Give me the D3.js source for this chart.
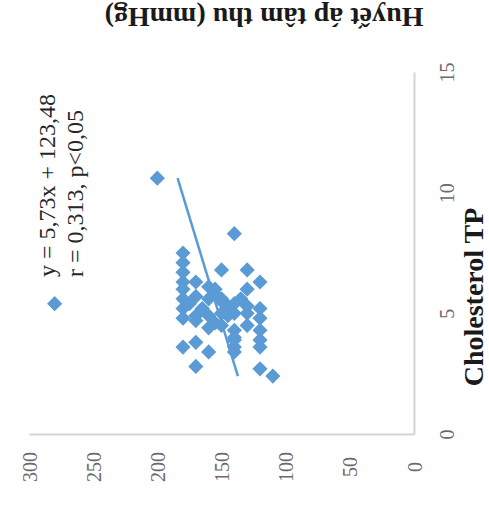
<!DOCTYPE html>
<html>
<head>
<meta charset="utf-8">
<script src="https://cdn.jsdelivr.net/npm/d3@7"></script>
<style>
  body { margin: 0; background: #fff; }
  svg { display: block; font-family: "Liberation Serif", "Times New Roman", serif; }
</style>
</head>
<body>
<div id="wrapper"></div>
<script>

// 1. Data (Cholesterol TP vs Huyết áp tâm thu)

const cholesterol = [10.6, 5.4, 8.3, 7.5, 7.1, 6.7, 6.3, 6.0, 5.6, 5.2, 4.8,
	6.8, 6.8, 6.3, 6.3, 6.1, 6.0, 6.0, 5.7, 5.6, 5.4, 5.4, 5.6,
	5.2, 4.8, 4.3, 3.9, 3.6, 2.7, 2.4,
	4.9, 4.6, 5.0, 4.9, 4.3, 3.9, 3.6, 3.4, 4.4,
	3.6, 3.8, 3.4, 2.8, 5.3, 5.0, 4.5, 5.3, 5.2, 5.5, 5.0, 5.6, 5.8, 4.7, 4.9, 4.5, 4.0];
const systolic = [200, 280, 140, 180, 180, 180, 180, 180, 180, 180, 180,
	150, 130, 120, 170, 160, 155, 130, 170, 160, 175, 140, 135,
	120, 120, 120, 120, 120, 120, 110,
	160, 155, 150, 145, 140, 140, 140, 140, 160,
	180, 170, 160, 170, 130, 130, 150, 145, 165, 150, 140, 150, 155, 170, 170, 130, 140];

const cholTicks = [0, 5, 10, 15];
const bpTicks = [0, 50, 100, 150, 200, 250, 300];

const trendSlope = 5.73;
const trendIntercept = 123.48;
const equationLines = ["y = 5,73x + 123,48", "r = 0,313, p<0,05"];

const xTitle = "Cholesterol TP";
const yTitle = "Huyết áp tâm thu (mmHg)";

// 2. Dimensions (chart is turned a quarter turn: Cholesterol runs upward, pressure runs leftward)

const width = 489;
const height = 506;

const svg = d3.select("#wrapper")
	.append("svg")
	.attr("width", width)
	.attr("height", height);

// 3. Scales

const cholScale = d3.scaleLinear().domain([0, 15]).range([434, 72]);
const bpScale = d3.scaleLinear().domain([0, 300]).range([414, 29]);

// 4. Axes

const cholAxis = svg.append("g")
	.attr("transform", `translate(${bpScale(0)},0)`)
	.call(d3.axisRight(cholScale).tickValues(cholTicks).tickSize(0).tickSizeOuter(0));

const bpAxis = svg.append("g")
	.attr("transform", `translate(0,${cholScale(0)})`)
	.call(d3.axisBottom(bpScale).tickValues(bpTicks).tickSize(0).tickSizeOuter(0));

[cholAxis, bpAxis].forEach(ax => {
	ax.select(".domain").attr("stroke", "#d4d4d4").attr("stroke-width", 2);
	ax.selectAll("text")
		.attr("font-family", "Liberation Serif, serif")
		.attr("font-size", 20)
		.attr("fill", "#6a6a6a")
		.attr("text-anchor", "middle")
		.attr("x", 0)
		.attr("y", 0)
		.attr("dy", "0.35em");
});

cholAxis.selectAll("text").attr("transform", "translate(33,0) rotate(-90)");
bpAxis.selectAll("text").attr("transform", "translate(0,33) rotate(-90)");

// 5. Trend line

const cholExtent = d3.extent(cholesterol);
const line = d3.line()
	.x(c => bpScale(trendIntercept + trendSlope * c))
	.y(c => cholScale(c));

svg.append("path")
	.attr("d", line(cholExtent))
	.attr("fill", "none")
	.attr("stroke", "#5b9bd5")
	.attr("stroke-width", 2.5);

// 6. Points

const diamond = d3.symbol().type(d3.symbolSquare).size(115);

svg.selectAll(".point")
	.data(cholesterol.map((c, i) => ({ chol: c, bp: systolic[i] })))
	.enter()
	.append("path")
	.attr("class", "point")
	.attr("d", diamond)
	.attr("transform", d => `translate(${bpScale(d.bp)},${cholScale(d.chol)}) rotate(45)`)
	.attr("fill", "#5b9bd5");

// 7. Texts

svg.selectAll(".eq")
	.data(equationLines)
	.enter()
	.append("text")
	.attr("class", "eq")
	.attr("transform", (d, i) => `translate(${55 + i * 28},277) rotate(-90)`)
	.attr("font-size", 24)
	.attr("fill", "#262626")
	.text(d => d);

svg.append("text")
	.attr("transform", "translate(483,297) rotate(-90)")
	.attr("text-anchor", "middle")
	.attr("font-size", 28)
	.attr("font-weight", "bold")
	.attr("fill", "#1a1a1a")
	.text(xTitle);

svg.append("text")
	.attr("transform", "translate(264,8) rotate(180)")
	.attr("text-anchor", "middle")
	.attr("font-size", 28)
	.attr("font-weight", "bold")
	.attr("fill", "#1a1a1a")
	.text(yTitle);

</script>
</body>
</html>
